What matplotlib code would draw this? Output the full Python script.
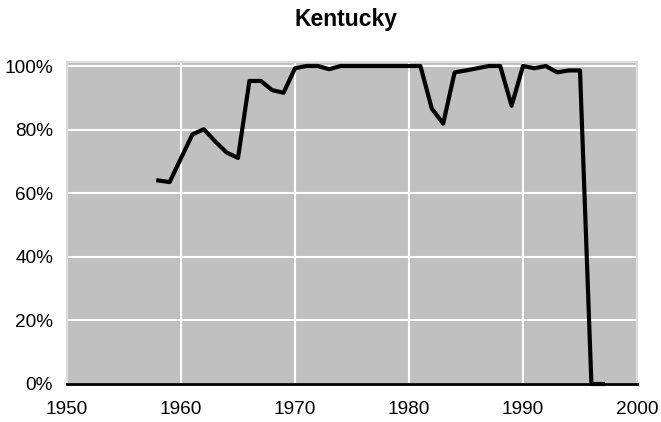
import matplotlib
matplotlib.use('Agg')
import matplotlib.pyplot as plt
from matplotlib.ticker import PercentFormatter

plt.rcParams['font.family'] = ['Liberation Sans', 'DejaVu Sans']

years = [1958, 1959, 1960, 1961, 1962, 1963, 1964, 1965, 1966, 1967,
         1968, 1969, 1970, 1971, 1972, 1973, 1974, 1975, 1976, 1977,
         1978, 1979, 1980, 1981, 1982, 1983, 1984, 1985, 1986, 1987,
         1988, 1989, 1990, 1991, 1992, 1993, 1994, 1995, 1996, 1997]
share = [0.640, 0.635, 0.710, 0.785, 0.801, 0.763, 0.728, 0.711, 0.953, 0.953,
         0.924, 0.916, 0.993, 1.000, 1.000, 0.990, 1.000, 1.000, 1.000, 1.000,
         1.000, 1.000, 1.000, 1.000, 0.866, 0.819, 0.980, 0.986, 0.993, 1.000,
         1.000, 0.875, 1.000, 0.993, 1.000, 0.980, 0.986, 0.986, 0.0, 0.0]

x_ticks = [1950, 1960, 1970, 1980, 1990, 2000]
y_ticks = [0, 0.2, 0.4, 0.6, 0.8, 1.0]

W, H = 661, 422
fig = plt.figure(figsize=(W / 100, H / 100), dpi=100)
ax = fig.add_axes([67 / W, 1 - 384 / H, (637 - 67) / W, (384 - 62) / H])

ax.set_facecolor('#c0c0c0')
ax.set_xlim(1950, 2000)
ax.set_ylim(0, 1.0126)
ax.set_xticks(x_ticks)
ax.set_yticks(y_ticks)
ax.yaxis.set_major_formatter(PercentFormatter(1.0, decimals=0))
ax.grid(True, color='white', linewidth=1.5)
ax.set_axisbelow(True)
ax.tick_params(length=0, labelsize=13.7, colors='black')
ax.tick_params(axis='y', pad=10)
ax.tick_params(axis='x', pad=12.5)

for side in ['top', 'right', 'left']:
    ax.spines[side].set_color('#dcdcdc')
    ax.spines[side].set_linewidth(1.5)
ax.spines['bottom'].set_color('black')
ax.spines['bottom'].set_linewidth(2)

ax.plot(years, share, color='black', linewidth=3, solid_joinstyle='round',
        clip_on=False, zorder=3)

fig.text(345.5 / W, 1 - 25.7 / H, 'Kentucky', ha='center', va='baseline',
         fontsize=16.5, fontweight='bold')

fig.savefig('out.png', dpi=100)
